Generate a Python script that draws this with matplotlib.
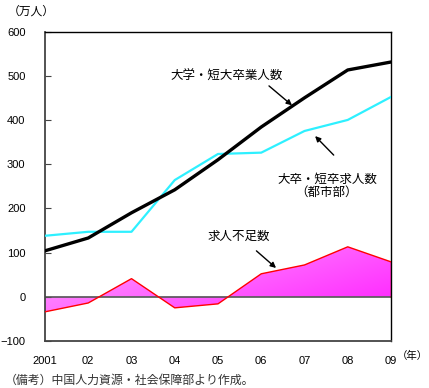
import matplotlib
matplotlib.use("Agg")
import matplotlib.pyplot as plt
import numpy as np
from matplotlib.colors import LinearSegmentedColormap
from matplotlib.patches import Polygon

plt.rcParams["font.family"] = ["Liberation Sans", "Noto Sans CJK JP"]

# データ（万人）
years = [2001, 2002, 2003, 2004, 2005, 2006, 2007, 2008, 2009]
year_labels = ["2001", "02", "03", "04", "05", "06", "07", "08", "09"]
graduates = [104, 133, 190, 242, 310, 384, 450, 513, 531]
job_offers = [138, 147, 147, 264, 323, 326, 375, 400, 452]
shortage = [-34, -14, 41, -25, -16, 52, 72, 113, 79]

fig = plt.figure(figsize=(4.29, 3.88), dpi=100)
ax = fig.add_axes([45 / 429, 47 / 388, 346 / 429, 309.5 / 388])

# 求人不足数（グラデーション塗り）
x = np.array(years, dtype=float)
y = np.array(shortage, dtype=float)
verts = [(x[0], 0)] + list(zip(x, y)) + [(x[-1], 0)]
poly = Polygon(verts, closed=True, facecolor="none", edgecolor="none")
ax.add_patch(poly)
cmap = LinearSegmentedColormap.from_list("pink", ["#ffa8ff", "#ff22ff"])
gx, gy = np.meshgrid(np.linspace(0, 1, 200), np.linspace(0, 1, 200))
grad = 0.6 * gx + 0.4 * (1 - gy)
img = ax.imshow(grad, cmap=cmap, extent=[2001, 2009, -40, 120], origin="lower",
                aspect="auto", zorder=1)
img.set_clip_path(poly)
ax.plot(years, shortage, color="red", lw=1.0, zorder=3)
ax.plot([2009, 2009], [0, shortage[-1]], color="red", lw=1.0, zorder=3)
ax.axhline(0, color="#555555", lw=1.2, zorder=2)

ax.plot(years, job_offers, color="#2ef0ff", lw=1.6, zorder=4)
ax.plot(years, graduates, color="black", lw=2.4, zorder=5)

ax.set_xlim(2001, 2009)
ax.set_ylim(-100, 600)
ax.set_yticks(range(-100, 601, 100))
ax.set_yticklabels(["\u2212100"] + [str(v) for v in range(0, 601, 100)])
ax.set_xticks(years)
ax.set_xticklabels(year_labels)
ax.tick_params(axis="y", direction="in", length=4, pad=14, labelsize=8, color="#444444")
ax.tick_params(axis="x", length=0, pad=11, labelsize=8)
for s in ["left", "bottom"]:
    ax.spines[s].set_color("#444444")
    ax.spines[s].set_linewidth(1.3)
for s in ["top", "right"]:
    ax.spines[s].set_linewidth(1.0)

arrow = dict(arrowstyle="-|>", color="black", lw=1.0, mutation_scale=8)
jp = 9
ax.text(2005.19, 499, "大学・短大卒業人数", fontsize=jp, ha="center", va="center")
ax.annotate("", xy=(2006.76, 429), xytext=(2006.13, 481), arrowprops=arrow, zorder=6)

ax.text(2007.52, 264, "大卒・短卒求人数", fontsize=jp, ha="center", va="center")
ax.text(2007.52, 235, "（都市部）", fontsize=jp, ha="center", va="center")
ax.annotate("", xy=(2007.2, 368), xytext=(2007.72, 316), arrowprops=arrow, zorder=6)

ax.text(2005.49, 136, "求人不足数", fontsize=jp, ha="center", va="center")
ax.annotate("", xy=(2006.39, 61), xytext=(2005.84, 108), arrowprops=arrow, zorder=6)

fig.text(8 / 429, 1 - 12 / 388, "（万人）", fontsize=8.5, ha="left", va="center")
fig.text(397 / 429, 1 - 356 / 388, "（年）", fontsize=7.5, ha="left", va="center")
fig.text(5 / 429, 1 - 381 / 388, "（備考）中国人力資源・社会保障部より作成。",
         fontsize=8.6, ha="left", va="center", color="#333333")

fig.savefig("out.png", dpi=100)
